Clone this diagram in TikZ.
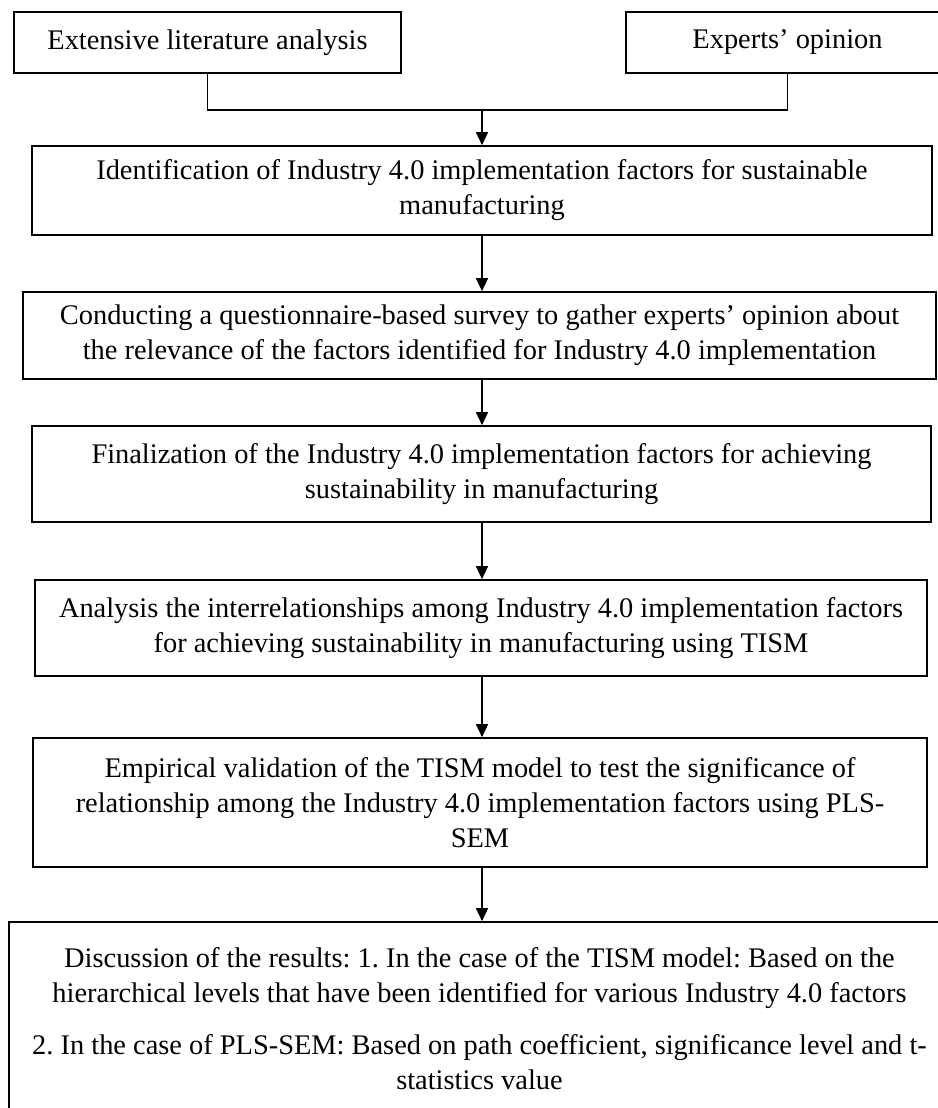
\documentclass[tikz,border=0pt]{standalone}
\usepackage{fontspec}
\setmainfont{Liberation Serif}
\frenchspacing
\usetikzlibrary{arrows.meta}
\begin{document}
\begin{tikzpicture}[x=1pt,y=-1pt,
  box/.style={draw=black,line width=1.7pt,inner sep=0pt,align=center,
    font=\fontsize{28.4}{35}\selectfont},
  conn/.style={line width=1.7pt},
  arr/.style={line width=1.7pt,-{Triangle[width=12pt,length=13pt]}}]
\useasboundingbox (0,0) rectangle (937,1108);
\node[box,minimum width=387pt,minimum height=61pt] (b1) at (207.5,42.5) {Extensive literature analysis};
\node[box,minimum width=323pt,minimum height=61pt] (b2) at (787.5,42.5) {Experts’ opinion};
\node[box,minimum width=900pt,minimum height=89pt] (b3) at (482,190.5) {Identification of Industry 4.0 implementation factors for sustainable\\ manufacturing};
\node[box,minimum width=913pt,minimum height=87pt] (b4) at (479.5,335.5) {Conducting a questionnaire-based survey to gather experts’ opinion about\\ the relevance of the factors identified for Industry 4.0 implementation};
\node[box,minimum width=899pt,minimum height=96pt] (b5) at (481.5,474) {Finalization of the Industry 4.0 implementation factors for achieving\\ sustainability in manufacturing};
\node[box,minimum width=892pt,minimum height=96pt] (b6) at (481,628) {Analysis the interrelationships among Industry 4.0 implementation factors\\ for achieving sustainability in manufacturing using TISM};
\node[box,minimum width=894pt,minimum height=129pt] (b7) at (480,802.5) {Empirical validation of the TISM model to test the significance of\\ relationship among the Industry 4.0 implementation factors using PLS-\\ SEM};
\node[box,minimum width=941pt,minimum height=194pt] (b8) at (479.5,1019) {Discussion of the results: 1. In the case of the TISM model: Based on the\\ hierarchical levels that have been identified for various Industry 4.0 factors\\[17pt] 2. In the case of PLS-SEM: Based on path coefficient, significance level and t-\\ statistics value};
\coordinate (j) at (482,110);
\draw[conn] (b1.south) |- (j);
\draw[conn] (b2.south) |- (j);
\draw[arr] (j) -- (b3.north -| j);
\draw[arr] (b3.south -| j) -- (b4.north -| j);
\draw[arr] (b4.south -| j) -- (b5.north -| j);
\draw[arr] (b5.south -| j) -- (b6.north -| j);
\draw[arr] (b6.south -| j) -- (b7.north -| j);
\draw[arr] (b7.south -| j) -- (b8.north -| j);
\end{tikzpicture}
\end{document}
